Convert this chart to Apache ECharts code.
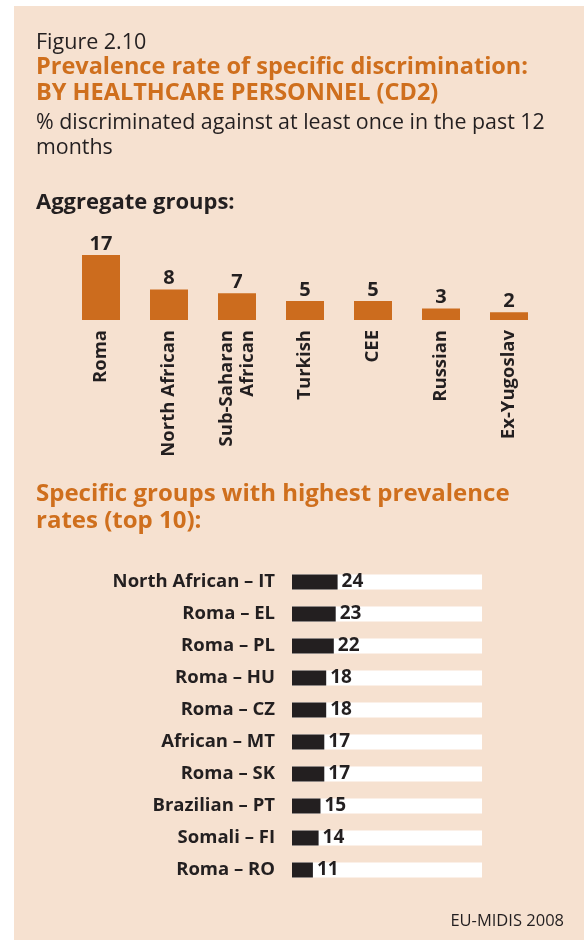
<!DOCTYPE html>
<html>
<head>
<meta charset="utf-8">
<script src="https://cdn.jsdelivr.net/npm/echarts@6/dist/echarts.min.js"></script>
<style>
  html, body { margin: 0; padding: 0; background: #fff; }
  #chart { width: 586px; height: 940px; }
</style>
</head>
<body>
<div id="chart"></div>
<script>
// aggregate groups
var aggCategories = ['Roma', 'North African', 'Sub-Saharan\nAfrican', 'Turkish', 'CEE', 'Russian', 'Ex-Yugoslav']
var aggValues = [17, 8, 7, 5, 5, 3, 2]

// top 10 specific groups
var topCategories = ['North African – IT', 'Roma – EL', 'Roma – PL', 'Roma – HU', 'Roma – CZ',
  'African – MT', 'Roma – SK', 'Brazilian – PT', 'Somali – FI', 'Roma – RO']
var topValues = [24, 23, 22, 18, 18, 17, 17, 15, 14, 11]
var topMax = 100

var FONT = 'Open Sans'
var DARK = '#231f20'
var ORANGE = '#cf6f1d'

var myChart = echarts.init(document.getElementById('chart'))

function txt (x, y, text, size, weight, color, align) {
  return {
    type: 'text',
    x: x,
    y: y,
    silent: true,
    style: {
      text: text,
      fill: color,
      font: weight + ' ' + size + 'px "' + FONT + '"',
      align: align || 'left',
      verticalAlign: 'middle'
    }
  }
}

var option = {
  backgroundColor: '#fff',
  animation: false,
  graphic: [
    {
      type: 'rect',
      silent: true,
      z: -10,
      shape: { x: 14, y: 6, width: 570, height: 934 },
      style: { fill: '#f6e1d0' }
    },
    txt(36, 43, 'Figure 2.10', 21.5, 'normal', DARK),
    txt(36, 67.5, 'Prevalence rate of specific discrimination:', 23.5, 'bold', ORANGE),
    txt(36, 93, 'BY HEALTHCARE PERSONNEL (CD2)', 23.5, 'bold', ORANGE),
    txt(36, 123, '% discriminated against at least once in the past 12', 21.4, 'normal', DARK),
    txt(36, 147.5, 'months', 21.4, 'normal', DARK),
    txt(36, 203, 'Aggregate groups:', 22, 'bold', DARK),
    txt(36, 494, 'Specific groups with highest prevalence', 24, 'bold', ORANGE),
    txt(36, 521, 'rates (top 10):', 24, 'bold', ORANGE),
    txt(564, 921, 'EU-MIDIS 2008', 16.5, 'normal', DARK, 'right')
  ],
  grid: [
    { left: 67, width: 476, top: 255, height: 65 },
    { left: 292, width: 190, top: 566, height: 320 }
  ],
  xAxis: [
    {
      gridIndex: 0,
      type: 'category',
      data: aggCategories,
      axisLine: { show: false },
      axisTick: { show: false },
      axisLabel: {
        rotate: 90,
        margin: 10,
        interval: 0,
        color: DARK,
        fontFamily: FONT,
        fontWeight: 'bold',
        fontSize: 18.5,
        lineHeight: 21
      }
    },
    {
      gridIndex: 1,
      type: 'value',
      min: 0,
      max: topMax,
      show: false
    }
  ],
  yAxis: [
    {
      gridIndex: 0,
      type: 'value',
      min: 0,
      max: 17,
      show: false
    },
    {
      gridIndex: 1,
      type: 'category',
      inverse: true,
      data: topCategories,
      axisLine: { show: false },
      axisTick: { show: false },
      axisLabel: {
        margin: 17,
        color: DARK,
        fontFamily: FONT,
        fontWeight: 'bold',
        fontSize: 18.5
      }
    }
  ],
  series: [
    {
      type: 'bar',
      xAxisIndex: 0,
      yAxisIndex: 0,
      data: aggValues,
      barWidth: 38,
      itemStyle: { color: '#cc6c1e' },
      label: {
        show: true,
        position: 'top',
        distance: 1,
        color: DARK,
        fontFamily: FONT,
        fontWeight: 'bold',
        fontSize: 20
      }
    },
    {
      // white track behind each bar
      type: 'bar',
      xAxisIndex: 1,
      yAxisIndex: 1,
      data: topCategories.map(function () { return topMax }),
      barWidth: 15,
      silent: true,
      itemStyle: { color: '#ffffff' }
    },
    {
      type: 'bar',
      xAxisIndex: 1,
      yAxisIndex: 1,
      data: topValues,
      barWidth: 15,
      barGap: '-100%',
      itemStyle: { color: DARK },
      label: {
        show: true,
        position: 'right',
        distance: 4,
        color: DARK,
        fontFamily: FONT,
        fontWeight: 'bold',
        fontSize: 19
      }
    }
  ]
}
myChart.setOption(option)
</script>
</body>
</html>
